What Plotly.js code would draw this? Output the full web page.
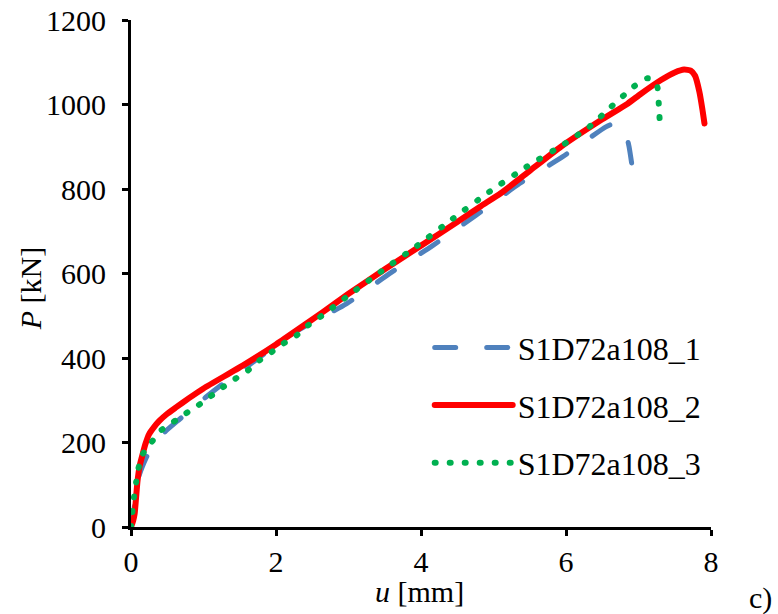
<!DOCTYPE html>
<html>
<head>
<meta charset="utf-8">
<script src="https://cdn.plot.ly/plotly-3.0.1.min.js"></script>
<style>
  html, body { margin: 0; padding: 0; background: #fff; }
  #chart { width: 778px; height: 614px; }
  .js-line { stroke-linecap: round !important; }
</style>
</head>
<body>
<div id="chart"></div>
<script>
// Series names
const names = ["S1D72a108_1", "S1D72a108_2", "S1D72a108_3"];

// S1D72a108_1 (blue, dashed)
const u1 = [0, 0.04, 0.07, 0.1, 0.15, 0.21, 0.3, 0.46, 0.67, 1.03, 1.26, 1.59, 1.86, 2.18, 2.46, 2.97, 3.56, 4.16, 4.76, 5.36, 5.95, 6.55, 6.67, 6.75, 6.82, 6.87, 6.92];
const P1 = [0, 40, 80, 115, 140, 164, 195, 224, 255, 307, 338, 378, 413, 453, 481, 528, 599, 666, 738, 813, 876, 947, 956, 953, 935, 900, 844];

// S1D72a108_2 (red, solid)
const u2 = [0, 0.03, 0.05, 0.07, 0.09, 0.12, 0.16, 0.2, 0.25, 0.32, 0.39, 0.5, 0.62, 0.8, 1.0, 1.54, 2.0, 2.34, 2.64, 3.0, 3.5, 4.0, 4.5, 4.83, 5.1, 5.5, 5.93, 6.5, 6.85, 7.03, 7.31, 7.5, 7.63, 7.72, 7.78, 7.84, 7.88, 7.91];
const P2 = [0, 15, 31, 70, 109, 145, 172, 197, 220, 237, 251, 268, 283, 305, 328, 382, 432, 472, 508, 552, 610, 666, 722, 760, 790, 843, 900, 965, 1002, 1025, 1058, 1076, 1083, 1080, 1068, 1030, 990, 955];

// S1D72a108_3 (green, dotted)
const u3 = [0, 0.02, 0.04, 0.07, 0.1, 0.16, 0.28, 0.41, 0.57, 0.74, 0.92, 1.08, 1.26, 1.43, 1.61, 1.77, 1.93, 2.09, 2.28, 2.44, 2.6, 3.0, 3.5, 3.95, 4.44, 4.94, 5.45, 5.98, 6.32, 6.62, 6.94, 7.12, 7.2, 7.26, 7.28, 7.3];
const P3 = [0, 38, 69, 105, 137, 172, 200, 228, 247, 267, 287, 307, 330, 350, 370, 394, 413, 433, 453, 477, 496, 548, 611, 666, 730, 793, 852, 907, 947, 994, 1043, 1062, 1058, 1042, 1000, 937];

// Axis ticks
const xTicks = [0, 2, 4, 6, 8];
const yTicks = [0, 200, 400, 600, 800, 1000, 1200];

const FONT = "Liberation Serif";

const traces = [
  { x: u1, y: P1, name: names[0], mode: "lines", legendgroup: "a",
    line: { color: "#4F81BD", width: 5, dash: "21px,31px", shape: "spline", smoothing: 0.5 } },
  { x: u2, y: P2, name: names[1], mode: "lines", legendgroup: "b",
    line: { color: "#FF0000", width: 6, shape: "spline", smoothing: 0.5 } },
  { x: u3, y: P3, name: names[2], mode: "lines", legendgroup: "c",
    line: { color: "#00B050", width: 6, dash: "1px,14px", shape: "spline", smoothing: 0.5 } }
];

const axisCommon = {
  showgrid: false, zeroline: false, showline: true,
  linecolor: "#000", linewidth: 3,
  ticks: "outside", ticklen: 6, tickwidth: 3, tickcolor: "#000",
  tickfont: { family: FONT, size: 30, color: "#000" }
};

const layout = {
  width: 778, height: 614,
  margin: { l: 131, r: 67, t: 20, b: 87 },
  paper_bgcolor: "#fff", plot_bgcolor: "#fff",
  font: { family: FONT, color: "#000" },
  showlegend: true,
  legend: {
    x: 0.515, y: 0.408, xanchor: "left", yanchor: "top",
    font: { family: FONT, size: 32, color: "#000" },
    itemwidth: 78, tracegroupgap: 13, bgcolor: "rgba(0,0,0,0)"
  },
  xaxis: Object.assign({}, axisCommon, {
    range: [0, 8], tickvals: xTicks, ticktext: xTicks.map(String),
    ticklabelstandoff: 0
  }),
  yaxis: Object.assign({}, axisCommon, {
    range: [0, 1200], tickvals: yTicks, ticktext: yTicks.map(String),
    ticklabelstandoff: 10
  }),
  annotations: [
    { text: "<i>u</i> [mm]", xref: "paper", yref: "paper", x: 0.498, y: -0.1265,
      xanchor: "center", yanchor: "middle",
      showarrow: false, font: { family: FONT, size: 30, color: "#000" } },
    { text: "<i>P</i> [kN]", xref: "paper", yref: "paper", x: -0.205, y: 0.47,
      textangle: -90, showarrow: false, font: { family: FONT, size: 30, color: "#000" } },
    { text: "c)", xref: "paper", yref: "paper", x: 1.085, y: -0.178, xanchor: "center",
      showarrow: false, font: { family: FONT, size: 30, color: "#000" } }
  ]
};

Plotly.newPlot("chart", traces, layout, { displayModeBar: false, staticPlot: true });
</script>
</body>
</html>
